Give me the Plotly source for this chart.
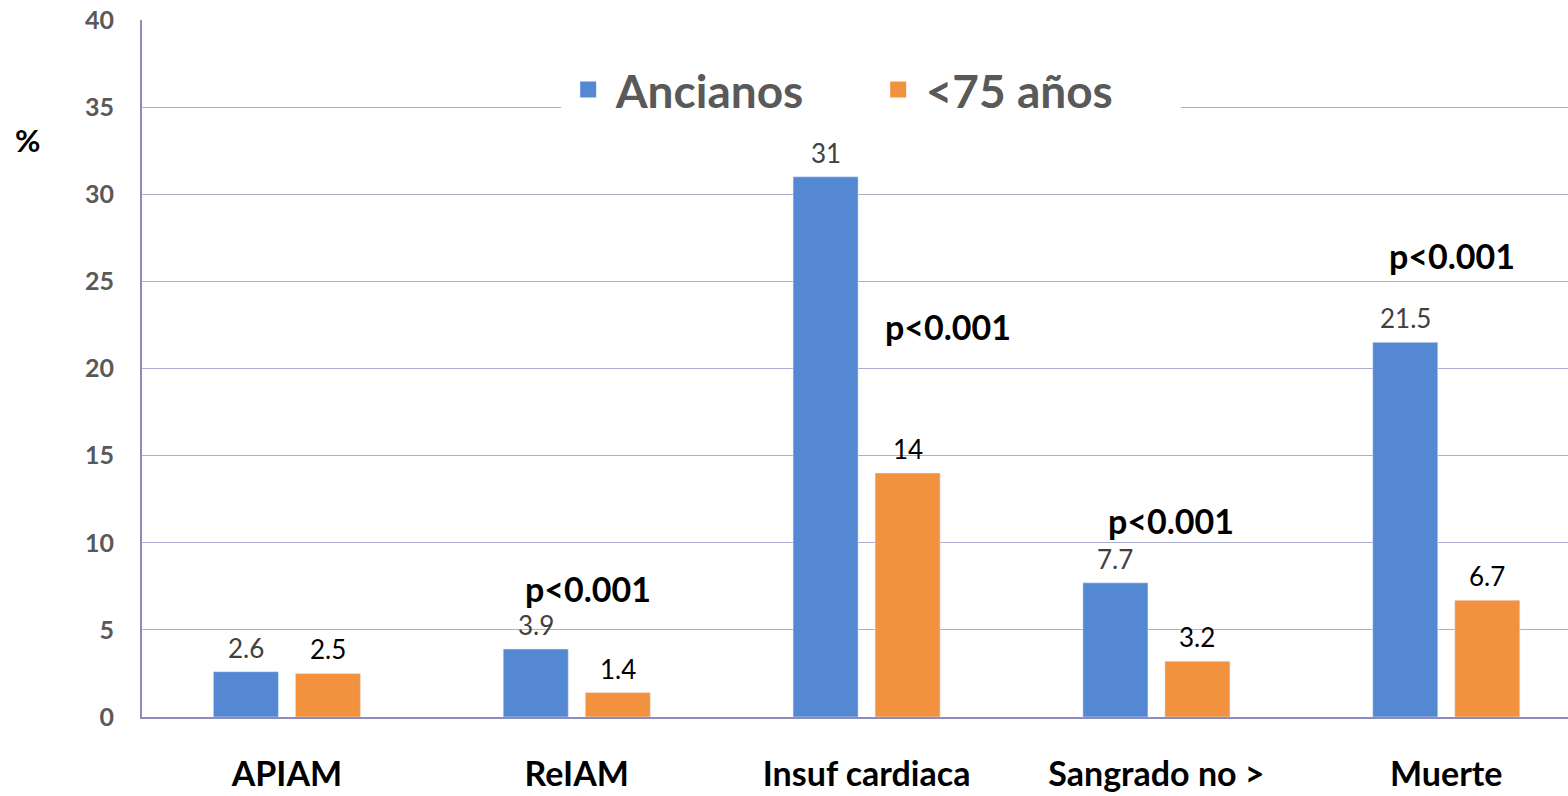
import plotly.graph_objects as go

categories = ["APIAM", "ReIAM", "Insuf cardiaca", "Sangrado no >", "Muerte"]
ancianos = [2.6, 3.9, 31, 7.7, 21.5]
menores = [2.5, 1.4, 14, 3.2, 6.7]
series_names = ["Ancianos", "<75 años"]
p_labels = ["", "p<0.001", "p<0.001", "p<0.001", "p<0.001"]
p_y = [None, 7.4, 22.4, 11.3, 26.5]
p_dx = [0, 0.04, 0.28, 0.05, 0.02]

blue = "#5588D2"
orange = "#F2923F"
FONT = "Lato"

fig = go.Figure()
fig.add_trace(go.Bar(x=list(range(len(categories))), y=ancianos, marker_color=blue,
                     showlegend=False, name=series_names[0]))
fig.add_trace(go.Bar(x=list(range(len(categories))), y=menores, marker_color=orange,
                     showlegend=False, name=series_names[1]))
# legend proxies
fig.add_trace(go.Scatter(x=[None], y=[None], mode="markers", name=series_names[0],
                         marker=dict(symbol="square", size=24, color=blue)))
fig.add_trace(go.Scatter(x=[None], y=[None], mode="markers", name=series_names[1],
                         marker=dict(symbol="square", size=24, color=orange)))

annotations = []
offset = 0.1415
for i, (a, m) in enumerate(zip(ancianos, menores)):
    annotations.append(dict(x=i - offset, y=a, xref="x", yref="y", text=f"{a:g}",
                            showarrow=False, yshift=24,
                            font=dict(size=26, color="#404040", family=FONT)))
    annotations.append(dict(x=i + offset, y=m, xref="x", yref="y", text=f"{m:g}",
                            showarrow=False, yshift=24,
                            font=dict(size=26, color="#000000", family=FONT)))
for i, (t, yy, dx) in enumerate(zip(p_labels, p_y, p_dx)):
    if t:
        annotations.append(dict(x=i + dx, y=yy, xref="x", yref="y", text=f"<b>{t}</b>",
                                showarrow=False,
                                font=dict(size=34, color="#000000", family=FONT)))
annotations.append(dict(x=-0.0905, y=33.1, xref="paper", yref="y", text="<b>%</b>",
                        showarrow=False, font=dict(size=31, color="#000000", family=FONT)))

fig.update_layout(
    width=1568, height=796,
    margin=dict(l=142, r=0, t=20, b=79, autoexpand=False),
    paper_bgcolor="white", plot_bgcolor="white",
    barmode="group", bargap=0.434, bargroupgap=0.207,
    font=dict(family=FONT),
    annotations=annotations,
    legend=dict(orientation="h", x=0.511, xanchor="center", y=0.9, yanchor="middle",
                bgcolor="white", font=dict(size=46, color="#595959", family=FONT, weight="bold"),
                entrywidth=250, itemwidth=45, itemsizing="trace"),
)
fig.update_xaxes(
    tickmode="array", tickvals=list(range(len(categories))), ticktext=categories,
    range=[-0.5, 4.42], showgrid=False, showline=True, linecolor="#8C8CBE", linewidth=2,
    ticks="", ticklabelstandoff=26, automargin=False,
    tickfont=dict(size=34, color="#000000", family=FONT, weight="bold"),
    zeroline=False,
)
fig.update_yaxes(
    range=[0, 40], dtick=5, showgrid=True, gridcolor="#AEAED0", gridwidth=1,
    showline=True, linecolor="#8C8CBE", linewidth=2, zeroline=False,
    ticks="", ticklabelstandoff=21, automargin=False,
    tickfont=dict(size=25, color="#595959", family=FONT, weight="bold"),
)

fig.write_html("out.html", config={"displayModeBar": False},
               post_script="document.body.style.margin='0px';")
